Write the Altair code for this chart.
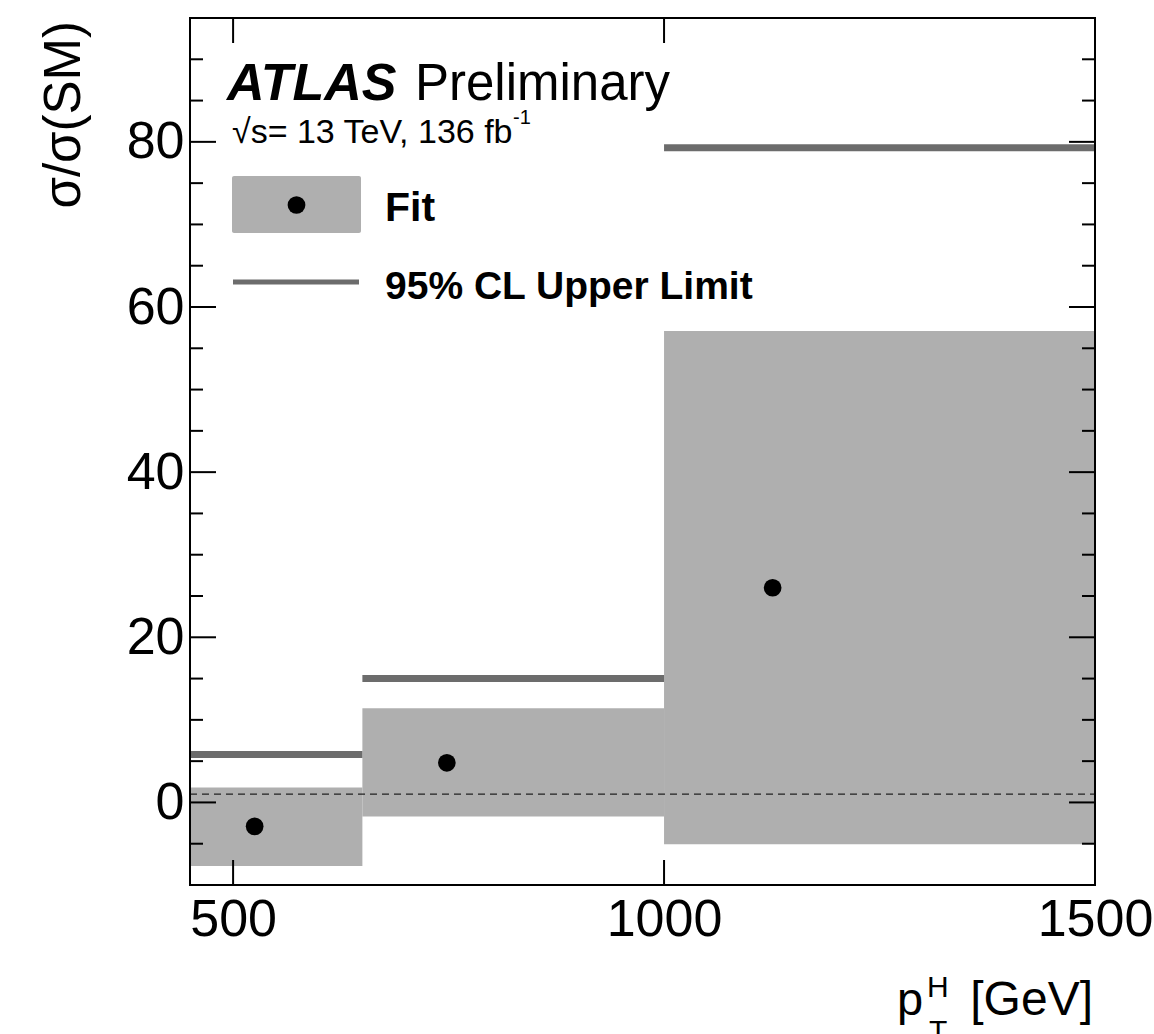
import altair as alt
import pandas as pd

# ---- data ----
bin_lo = [450, 650, 1000]
bin_hi = [650, 1000, 1500]
fit_x = [525, 748, 1126]
fit_val = [-2.9, 4.8, 26.0]
band_lo = [-7.7, -1.7, -5.05]
band_hi = [1.8, 11.4, 57.1]
limit_val = [5.8, 15.0, 79.3]
sm_ref = [1.0]
x_major = [500, 1000, 1500]
y_major = [0, 20, 40, 60, 80]
y_minor = [-5, 5, 10, 15, 25, 30, 35, 45, 50, 55, 65, 70, 75, 85, 90]
x_domain = [450, 1500]
y_domain = [-10, 95]

W, H = 905, 867
FONT = "Liberation Sans"
BAND = "#afafaf"
LIM = "#6c6c6c"

bins = pd.DataFrame({"lo": bin_lo, "hi": bin_hi, "blo": band_lo, "bhi": band_hi, "lim": limit_val})
fits = pd.DataFrame({"x": fit_x, "v": fit_val})
xt = pd.DataFrame({"t": x_major})
yt = pd.DataFrame({"t": y_major})
ym = pd.DataFrame({"t": y_minor})
smd = pd.DataFrame({"v": sm_ref})
one = pd.DataFrame({"k": [0]})

xs = alt.Scale(domain=x_domain, nice=False, zero=False)
ys = alt.Scale(domain=y_domain, nice=False, zero=False)
xaxis = alt.Axis(values=x_major, format="d", labelPadding=9, labelFontSize=52,
                 labelFont=FONT, labelColor="black", labelFlush=False, labelOverlap=False,
                 grid=False, ticks=False, domain=False)
yaxis = alt.Axis(values=y_major, format="d", labelPadding=6, labelFontSize=52,
                 labelFont=FONT, labelColor="black", labelOverlap=False,
                 grid=False, ticks=False, domain=False)

boxes = alt.Chart(bins).mark_rect(color=BAND).encode(
    x=alt.X("lo:Q", scale=xs, axis=xaxis, title=None), x2="hi:Q",
    y=alt.Y("blo:Q", scale=ys, axis=yaxis, title=None), y2="bhi:Q")

smline = alt.Chart(smd).mark_rule(color="#222222", strokeWidth=1.4, strokeDash=[7, 5]).encode(
    y=alt.Y("v:Q", scale=ys, title=None), x=alt.value(0), x2=alt.value(W))

limits = alt.Chart(bins).mark_rule(color=LIM, strokeWidth=7).encode(
    x=alt.X("lo:Q", scale=xs, title=None), x2="hi:Q",
    y=alt.Y("lim:Q", scale=ys, title=None))

dots = alt.Chart(fits).mark_circle(size=314, color="black", opacity=1).encode(
    x=alt.X("x:Q", scale=xs, title=None), y=alt.Y("v:Q", scale=ys, title=None))

tick_style = dict(color="black", strokeWidth=2)
xt_bot = alt.Chart(xt).mark_rule(**tick_style).encode(
    x=alt.X("t:Q", scale=xs, title=None), y=alt.value(H), y2=alt.value(H - 25))
xt_top = alt.Chart(xt).mark_rule(**tick_style).encode(
    x=alt.X("t:Q", scale=xs, title=None), y=alt.value(0), y2=alt.value(25))
yt_l = alt.Chart(yt).mark_rule(**tick_style).encode(
    y=alt.Y("t:Q", scale=ys, title=None), x=alt.value(0), x2=alt.value(26))
yt_r = alt.Chart(yt).mark_rule(**tick_style).encode(
    y=alt.Y("t:Q", scale=ys, title=None), x=alt.value(W), x2=alt.value(W - 26))
ym_l = alt.Chart(ym).mark_rule(**tick_style).encode(
    y=alt.Y("t:Q", scale=ys, title=None), x=alt.value(0), x2=alt.value(13))
ym_r = alt.Chart(ym).mark_rule(**tick_style).encode(
    y=alt.Y("t:Q", scale=ys, title=None), x=alt.value(W), x2=alt.value(W - 13))

frame = alt.Chart(one).mark_rect(fillOpacity=0, stroke="black", strokeWidth=2).encode(
    x=alt.value(0), x2=alt.value(W), y=alt.value(0), y2=alt.value(H))

# legend
leg_box = alt.Chart(one).mark_rect(color=BAND, cornerRadius=2).encode(
    x=alt.value(42), x2=alt.value(171), y=alt.value(158), y2=alt.value(215))
leg_dot = alt.Chart(one).mark_circle(size=314, color="black", opacity=1).encode(
    x=alt.value(106.5), y=alt.value(187))
leg_line = alt.Chart(one).mark_rule(color=LIM, strokeWidth=5).encode(
    x=alt.value(43), x2=alt.value(169), y=alt.value(264))


def txt(s, x, y, size, weight="normal", style="normal", align="left", angle=0):
    kw = dict(text=s, font=FONT, fontSize=size, fontWeight=weight, fontStyle=style,
              align=align, baseline="alphabetic", color="black")
    if angle:
        kw["angle"] = angle
    return alt.Chart(one).mark_text(**kw).encode(x=alt.value(x), y=alt.value(y))


texts = [
    txt("Fit", 195, 203, 41, weight="bold"),
    txt("95% CL Upper Limit", 195, 281, 39, weight="bold"),
    txt("ATLAS", 37, 82, 52, weight="bold", style="italic"),
    txt("Preliminary", 225, 82, 51),
    txt("\u221as= 13 TeV, 136 fb", 42, 125, 34),
    txt("-1", 323, 106, 20),
    txt("\u03c3/\u03c3(SM)", -110, 3, 51, align="right", angle=270),
    txt("p", 707, 997, 47),
    txt("H", 737, 979, 30),
    txt("T", 739, 1023, 30),
    txt("[GeV]", 903, 997, 48, align="right"),
]

chart = alt.layer(
    boxes, smline, limits, dots,
    xt_bot, xt_top, yt_l, yt_r, ym_l, ym_r, frame,
    leg_box, leg_dot, leg_line, *texts
).properties(
    width=W, height=H,
    background="white",
    autosize=alt.AutoSizeParams(type="none"),
    padding={"left": 190, "top": 18, "right": 59, "bottom": 149},
).configure_view(strokeWidth=0).configure_axis(
    domain=False, ticks=False, grid=False
)

chart.save("out.html", embed_options={"renderer": "svg", "actions": False})
